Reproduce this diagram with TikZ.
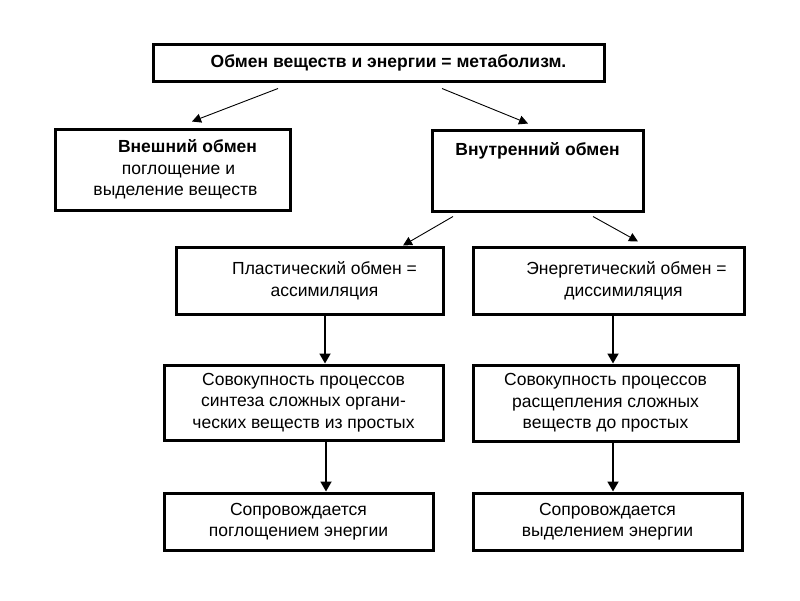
\documentclass[tikz,border=0pt]{standalone}
\usepackage{fontspec}
\setmainfont{Liberation Sans}
\usetikzlibrary{arrows.meta}

\begin{document}
\begin{tikzpicture}[x=1pt,y=-1pt,
        box/.style n args={2}{draw,line width=3pt,minimum width=#1,minimum height=#2,
            align=center,inner sep=0pt,font=\fontsize{17.5}{21.5}\selectfont},
        thinarrow/.style={-{Triangle[length=9pt,width=9pt]},line width=0.9pt},
        downarrow/.style={-{Triangle[length=10pt,width=11pt]},line width=1.8pt}]
        \useasboundingbox[fill=white] (0,0) rectangle (800,600);
        % \draw[very thin,color=gray] (0,0) grid[step=50] (800,600);
        \node[box={451pt}{37pt}] (meta) at (378.5,62.5) {\hspace*{20pt}\textbf{Обмен веществ и энергии = метаболизм.}};
        \node[box={235pt}{81pt}] (outer) at (172.5,169.5) {\hspace*{30pt}\textbf{Внешний обмен}\\\hspace*{12pt}поглощение и\\\hspace*{6pt}выделение веществ};
        \node[box={211pt}{81pt}] (inner) at (537.5,170.5) {\textbf{Внутренний обмен}\\~\\~};
        \node[box={267pt}{67pt}] (plast) at (309.5,280.5) {\hspace*{30pt}Пластический обмен =\\\hspace*{30pt}ассимиляция};
        \node[box={271pt}{67pt}] (energ) at (608.5,280.5) {\hspace*{36pt}Энергетический обмен =\\\hspace*{30pt}диссимиляция};
        \node[box={279pt}{75pt}] (synth) at (303.5,402.5) {Совокупность процессов\\синтеза сложных органи-\\ческих веществ из простых};
        \node[box={265pt}{76pt}] (split) at (605.5,403) {Совокупность процессов\\расщепления сложных\\веществ до простых};
        \node[box={269pt}{57pt}] (absorb) at (298.5,521.5) {Сопровождается\\поглощением энергии};
        \node[box={269pt}{57pt}] (release) at (607.5,521.5) {Сопровождается\\выделением энергии};

        \draw[thinarrow] ([xshift=-100.5pt,yshift=-6pt]meta.south) -- ([xshift=19.5pt,yshift=6pt]outer.north);
        \draw[thinarrow] ([xshift=63.5pt,yshift=-6pt]meta.south) -- ([xshift=-9.5pt,yshift=5pt]inner.north);
        \draw[thinarrow] ([xshift=-84.5pt,yshift=-4pt]inner.south) -- ([xshift=93.5pt]plast.north);
        \draw[thinarrow] ([xshift=55.5pt,yshift=-4pt]inner.south) -- ([xshift=29.5pt,yshift=4pt]energ.north);

        \draw[downarrow] ([xshift=15.5pt]plast.south) -- ([xshift=15.5pt]plast.south |- synth.north);
        \draw[downarrow] ([xshift=4.5pt]energ.south) -- ([xshift=4.5pt]energ.south |- split.north);
        \draw[downarrow] ([xshift=22.5pt]synth.south) -- ([xshift=22.5pt]synth.south |- absorb.north);
        \draw[downarrow] ([xshift=7.5pt]split.south) -- ([xshift=7.5pt]split.south |- release.north);
    \end{tikzpicture}
\end{document}
